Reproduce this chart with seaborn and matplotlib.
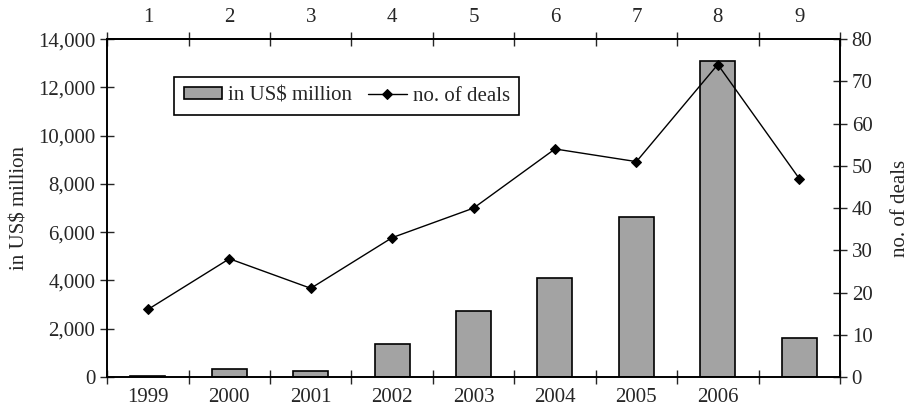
import numpy as np
import pandas as pd
import seaborn as sns
import matplotlib.pyplot as plt
from matplotlib.ticker import FuncFormatter

# Data
top_labels = ["1", "2", "3", "4", "5", "6", "7", "8", "9"]
year_labels = ["1999", "2000", "2001", "2002", "2003", "2004", "2005", "2006", ""]
value_musd = [50, 340, 230, 1350, 2750, 4100, 6650, 13100, 1610]
no_of_deals = [16, 28, 21, 33, 40, 54, 51, 74, 47]

df = pd.DataFrame({
    "slot": top_labels,
    "pos": np.arange(len(top_labels)),
    "value": value_musd,
    "deals": no_of_deals,
})

sns.set_style("ticks")
plt.rcParams["font.family"] = ["Liberation Serif", "DejaVu Serif"]
plt.rcParams["font.size"] = 15

fig = plt.figure(figsize=(9.09, 4.08), dpi=100)
ax = fig.add_axes([0.118, 0.076, 0.806, 0.828])

# Bars
sns.barplot(data=df, x="slot", y="value", color="#a3a3a3", edgecolor="black",
            linewidth=1.2, width=0.43, saturation=1, label=r"in US\$ million", ax=ax)

# Line on the right axis
ax2 = ax.twinx()
sns.lineplot(data=df, x="pos", y="deals", color="black", linewidth=1,
             marker="D", markersize=5.5, markeredgecolor="black",
             label="no. of deals", ax=ax2)

# x axes: ticks at boundaries, labels at centres
n = len(top_labels)
ax.set_xlim(-0.5, n - 0.5)
ax2.set_xlim(-0.5, n - 0.5)
ax.set_xticks(np.arange(-0.5, n, 1), labels=[""] * (n + 1))
ax.set_xticks(np.arange(n), labels=year_labels, minor=True)
ax.tick_params(axis="x", which="major", direction="inout", length=10, width=1)
ax.tick_params(axis="x", which="minor", length=0, pad=8)
ax.set_xlabel("")

top = ax.secondary_xaxis("top")
top.set_xticks(np.arange(-0.5, n, 1), labels=[""] * (n + 1))
top.set_xticks(np.arange(n), labels=top_labels, minor=True)
top.tick_params(axis="x", which="major", direction="inout", length=10, width=1)
top.tick_params(axis="x", which="minor", length=0, pad=9)

# y axes
ax.set_ylim(0, 14000)
ax.set_yticks(np.arange(0, 14001, 2000))
ax.yaxis.set_major_formatter(FuncFormatter(lambda v, p: f"{int(v):,}"))
ax.tick_params(axis="y", direction="inout", length=10, width=1)
ax.set_ylabel(r"in US\$ million", labelpad=6)

ax2.set_ylim(0, 80)
ax2.set_yticks(np.arange(0, 81, 10))
ax2.tick_params(axis="y", direction="inout", length=10, width=1)
ax2.set_ylabel("no. of deals", labelpad=13)
ax2.set_xlabel("")

for a in (ax, ax2):
    for s in a.spines.values():
        s.set_visible(True)
        s.set_color("black")
        s.set_linewidth(1.2)
top.spines["top"].set_linewidth(1.2)

# Combined legend
h1, l1 = ax.get_legend_handles_labels()
h2, l2 = ax2.get_legend_handles_labels()
if ax.get_legend():
    ax.get_legend().remove()
if ax2.get_legend():
    ax2.get_legend().remove()
leg = ax2.legend(h1 + h2, l1 + l2, loc="upper left", bbox_to_anchor=(0.0914, 0.8876),
                 borderaxespad=0, ncol=2, frameon=True, fancybox=False, framealpha=1,
                 edgecolor="black", borderpad=0.45, handlelength=1.85,
                 handleheight=0.5, columnspacing=0.75, handletextpad=0.3,
                 fontsize=15)
leg.get_frame().set_linewidth(1.2)

fig.savefig("out.png", dpi=100)
